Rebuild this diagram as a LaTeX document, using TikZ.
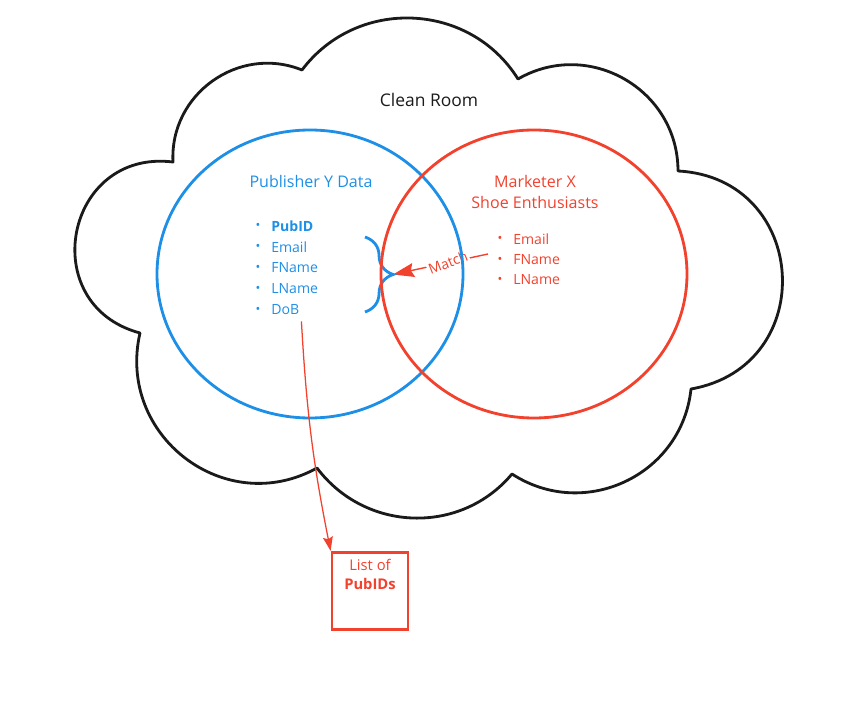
\documentclass[tikz,border=0pt]{standalone}
\usepackage{fontspec}
\setmainfont{Open Sans}
\usetikzlibrary{decorations.pathreplacing}
\usetikzlibrary{arrows.meta}
\usetikzlibrary{positioning}
\definecolor{pubblue}{HTML}{1E8FE6}
\definecolor{mktred}{HTML}{F2412D}
\definecolor{cloudink}{HTML}{1A1A1A}
\tikzset{
	cloudline/.style={draw=cloudink, line width=2pt, line join=round},
	pubset/.style={draw=pubblue, line width=2pt},
	mktset/.style={draw=mktred, line width=2pt},
	titletext/.style={font=\fontsize{11.4}{15}\selectfont, align=center, inner sep=0pt},
	itemtext/.style={font=\fontsize{10}{14}\selectfont, anchor=west, inner sep=0pt},
	bulletdot/.style={font=\fontsize{9}{9}\selectfont, inner sep=0pt}
}

\begin{document}
\begin{tikzpicture}[x=0.025cm, y=0.025cm]

	\useasboundingbox (0,0) rectangle (868,-701);

	% Clean room cloud
	\draw[cloudline] (173,-162) to[out=93,in=158,looseness=1.1] (302,-70)
		to[out=53,in=122,looseness=1.08] (518,-79)
		to[out=30,in=90,looseness=1.13] (678,-171)
		to[out=-3,in=10,looseness=1.54] (691,-389)
		to[out=-96,in=-33,looseness=1.12] (512,-474)
		to[out=-130,in=-53,looseness=1.05] (317,-468)
		to[out=-151,in=-103,looseness=1.21] (140,-333)
		to[out=165,in=173,looseness=1.6] (173,-162) -- cycle;
	\node[titletext, text=cloudink, font=\fontsize{12.4}{15}\selectfont] (room) at (429,-100) {Clean Room};

	% Match arrow (under the circles)
	\coordinate (bracetip) at (393,-274.5);
	\coordinate (matchend) at (488,-254);
	\draw[mktred, line width=1pt, -{Stealth[length=15pt, width=10pt, inset=2pt]}] (matchend) --
		node[pos=0.42, sloped, rotate=9, fill=white, inner sep=1pt, text=mktred, font=\fontsize{10}{12}\selectfont] (match) {Match} (bracetip);

	% Publisher set
	\draw[pubset] (310,-274) ellipse [x radius=153, y radius=144];
	\node[titletext, text=pubblue] (pubtitle) at (311,-181) {Publisher Y Data};
	\foreach \ypos/\name/\txt in {226/pubid/\textbf{PubID}, 247/pubemail/Email, 268/pubfname/FName, 289/publname/LName, 310/dob/DoB}
	{
		\node[bulletdot, text=pubblue] (\name bullet) at (258,-\ypos) {•};
		\node[itemtext, text=pubblue] (\name) at (271,-\ypos) {\txt};
	}
	\draw[pubset, decorate, decoration={brace, amplitude=20pt}] (365,-237) -- (365,-312);

	% Marketer set
	\draw[mktset] (534,-274) ellipse [x radius=153, y radius=144];
	\node[titletext, text=mktred] (mkttitle) at (535,-192) {Marketer X\\Shoe Enthusiasts};
	\foreach \ypos/\name/\txt in {239/mktemail/Email, 260/mktfname/FName, 280/mktlname/LName}
	{
		\node[bulletdot, text=mktred] (\name bullet) at (500,-\ypos) {•};
		\node[itemtext, text=mktred] (\name) at (513,-\ypos) {\txt};
	}

	% Output list
	\node[draw=mktred, line width=2pt, minimum width=54pt, minimum height=55pt, inner sep=0pt] (list) at (370,-591) {};
	\node[itemtext, anchor=north, align=center, text=mktred, font=\fontsize{10.5}{14}\selectfont] (listtext) at ([yshift=-5.5pt]list.north) {List of\\\textbf{PubIDs}};
	\draw[mktred, line width=0.9pt, -{Stealth[length=10pt, width=7pt, inset=1.5pt]}] ([shift={(2,-6)}]dob.south east) to[bend right=4] (list.north west);

\end{tikzpicture}
\end{document}
